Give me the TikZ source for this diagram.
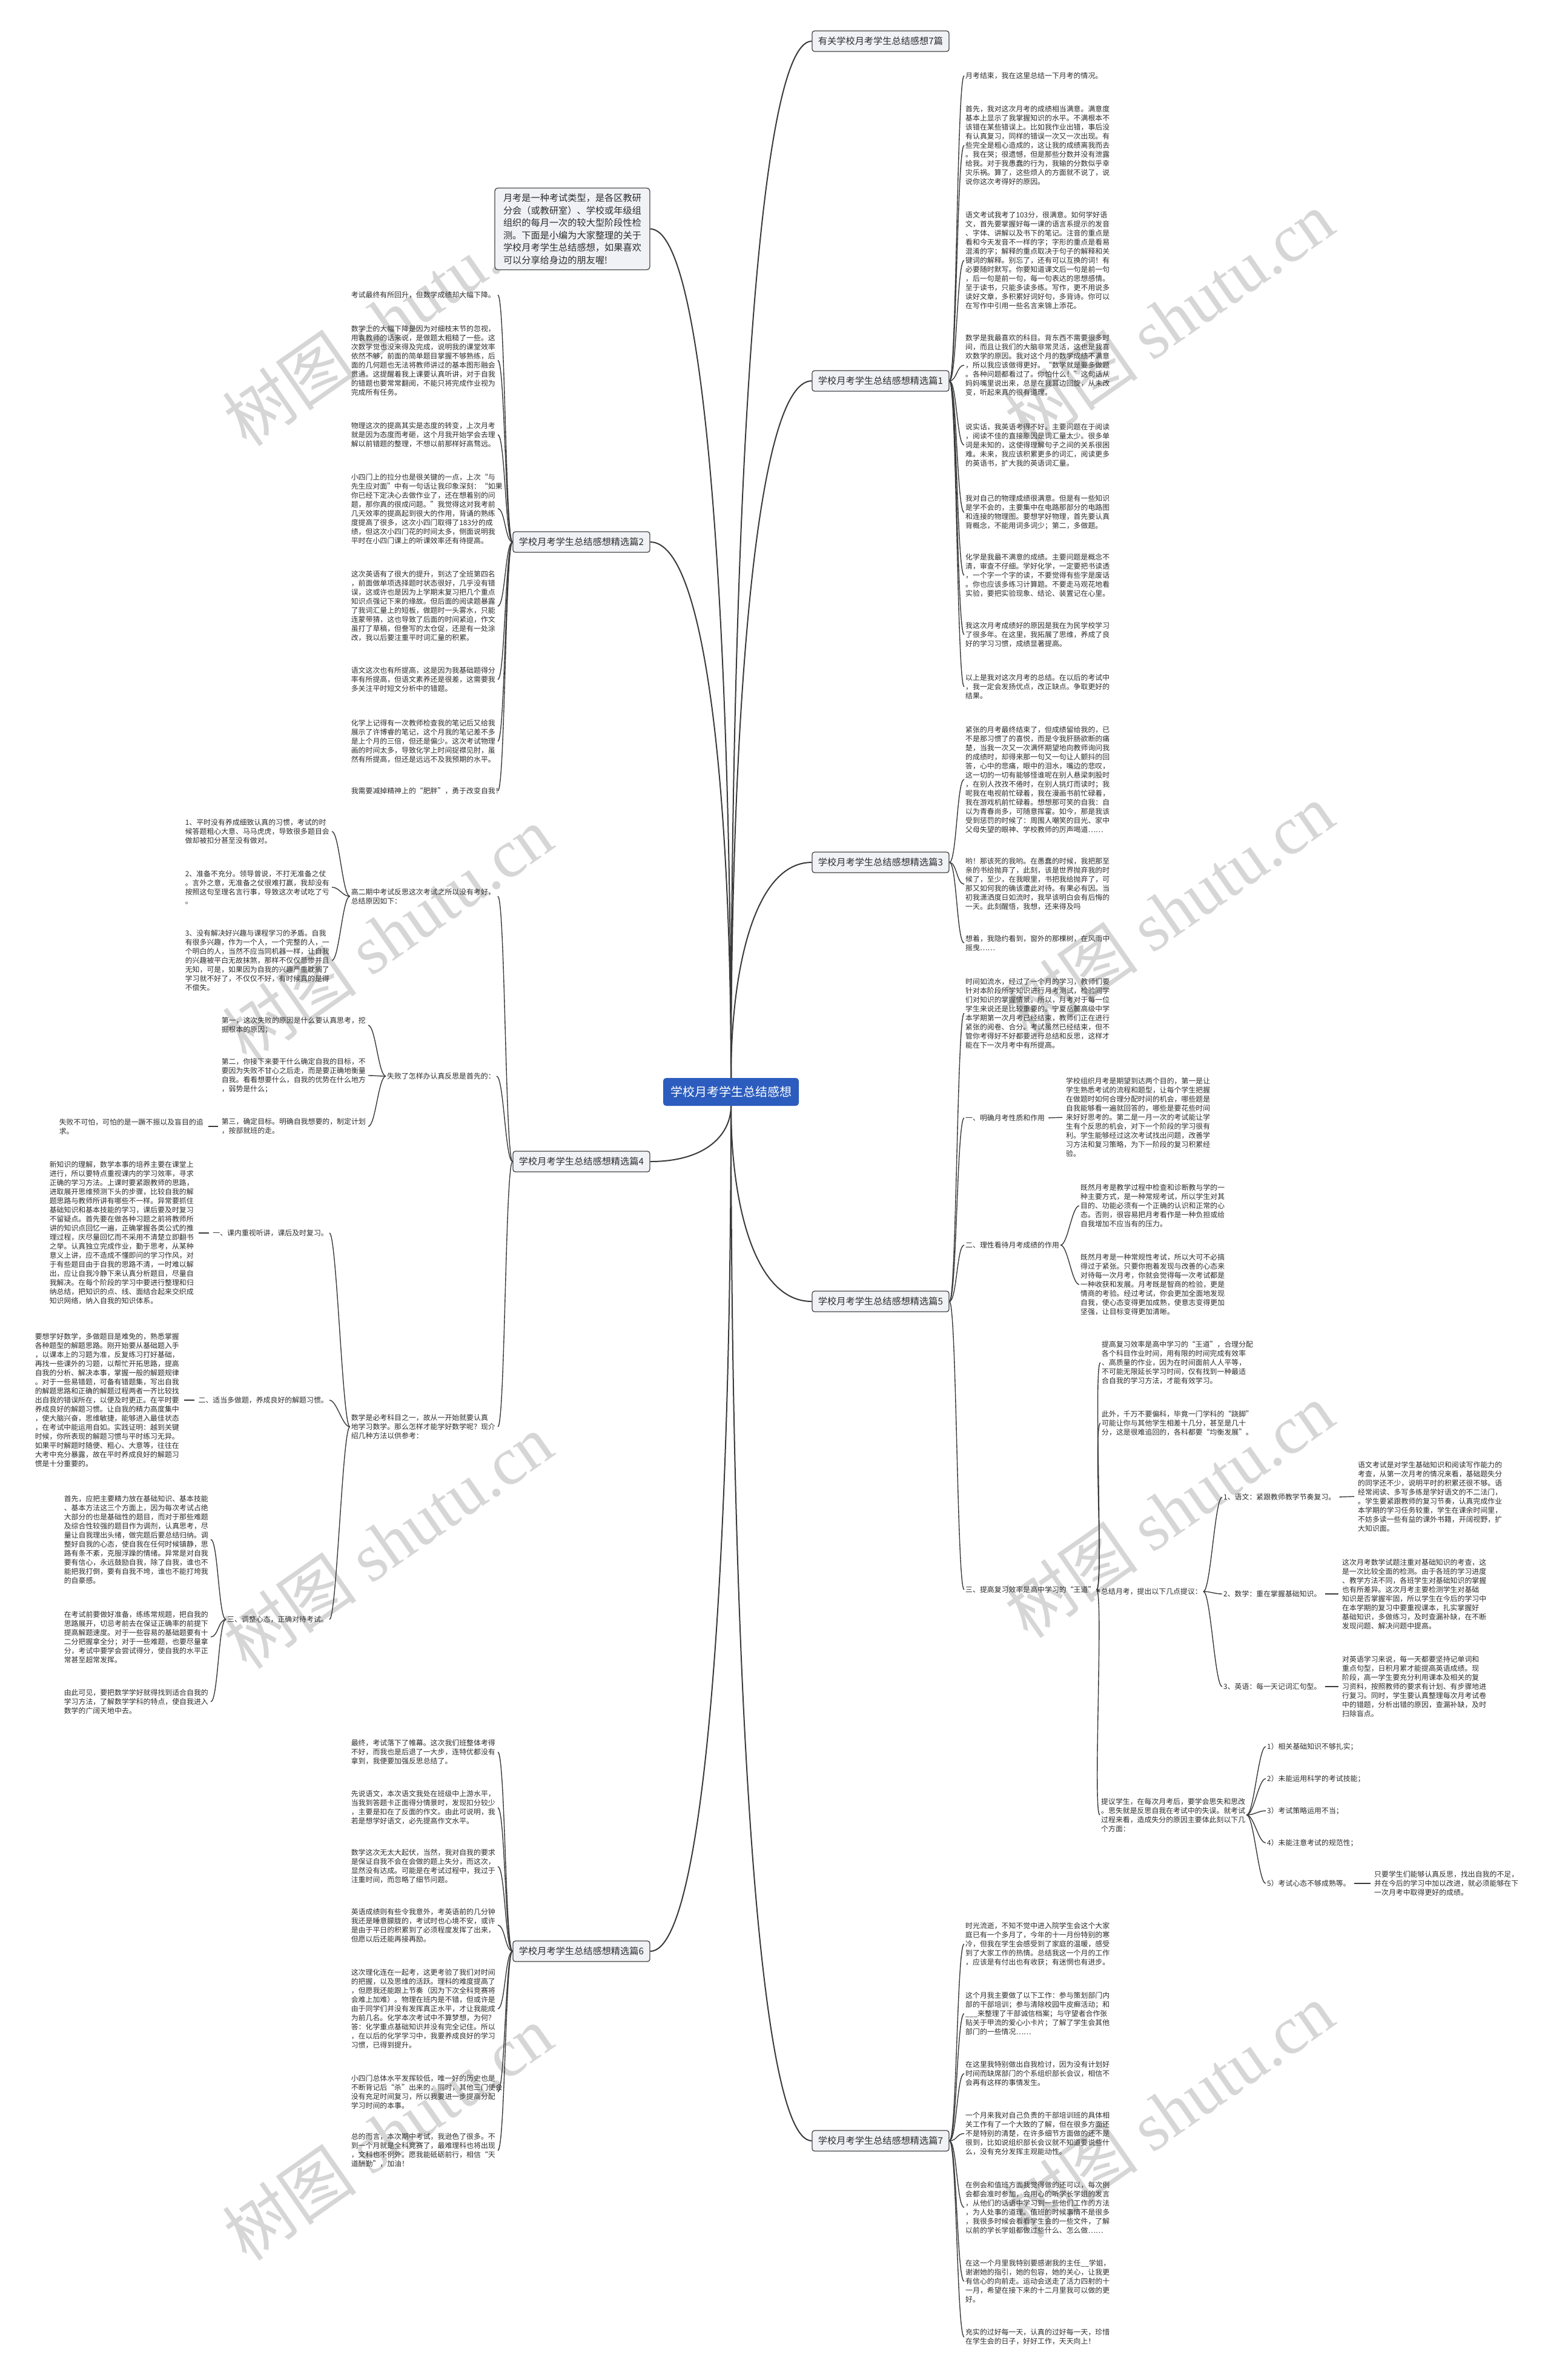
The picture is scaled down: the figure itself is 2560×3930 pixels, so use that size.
\documentclass[tikz,border=0pt]{standalone}
\usepackage{fontspec}
\setmainfont{Noto Sans CJK SC}
\newfontfamily\wmlatin{Liberation Serif}
\definecolor{linegray}{RGB}{58,58,58}
\definecolor{boxfill}{RGB}{240,242,246}
\definecolor{boxdraw}{RGB}{70,70,70}
\definecolor{rootblue}{RGB}{44,93,190}
\definecolor{txtcol}{RGB}{45,45,45}
\definecolor{wmcol}{RGB}{214,214,214}
\newcommand\fsT{\fontsize{11.9}{15}\selectfont}
\newcommand\fsB{\fontsize{15.2}{18}\selectfont}
\newcommand\fsI{\fontsize{15.2}{20.5}\selectfont}
\newcommand\fsR{\fontsize{20}{24}\selectfont}
\newcommand\fsW{\fontsize{112}{112}\selectfont}
\tikzset{
 txt/.style={inner sep=2pt, align=left, font=\fsT, text=txtcol},
 rt/.style={txt, anchor=west},
 lt/.style={txt, anchor=east, text width=240pt},
 branch/.style={draw=boxdraw, line width=1.3pt, fill=boxfill, rounded corners=4pt, minimum width=226pt, minimum height=34pt, font=\fsB, text=txtcol, inner sep=0pt},
 rootbox/.style={fill=rootblue, rounded corners=5pt, minimum width=224pt, minimum height=46pt, font=\fsR, text=white, inner sep=0pt},
 introbox/.style={draw=boxdraw, line width=1.3pt, fill=boxfill, rounded corners=5pt, minimum width=256pt, minimum height=135pt, font=\fsI, text=txtcol, align=left, inner sep=0pt},
 mainline/.style={draw=linegray, line width=2pt},
 subline/.style={draw=linegray, line width=1.4pt},
 dashline/.style={draw=linegray, line width=1.4pt, shorten <=4pt, shorten >=4pt},
 wm/.style={font=\fsW, text=wmcol, rotate=35, inner sep=0pt}
}
\begin{document}
\begin{tikzpicture}[x=1pt,y=-1pt]
\fill[white] (0,0) rectangle (2560,3930);
\useasboundingbox (0,0) rectangle (2560,3930);
% watermarks
\foreach \wx/\wy in {640/526,1930/526,640/1542,1930/1504,640/2545,1930/2494,640/3522,1930/3485}
  \node[wm] (wm-\wx-\wy) at (\wx,\wy) {树图 {\wmlatin shutu.cn}};

% ---------- main nodes ----------
\node[rootbox] (root) at (1207,1803) {学校月考学生总结感想};
\node[introbox] (intro) at (945,378) {月考是一种考试类型，是各区教研\\分会（或教研室）、学校或年级组\\组织的每月一次的较大型阶段性检\\测。下面是小编为大家整理的关于\\学校月考学生总结感想，如果喜欢\\可以分享给身边的朋友喔!};
\node[branch] (T0) at (1454,68) {有关学校月考学生总结感想7篇};
\node[branch] (P1) at (1454,629) {学校月考学生总结感想精选篇1};
\node[branch] (P3) at (1454,1424) {学校月考学生总结感想精选篇3};
\node[branch] (P5) at (1454,2149) {学校月考学生总结感想精选篇5};
\node[branch] (P7) at (1454,3535) {学校月考学生总结感想精选篇7};
\node[branch] (P2) at (960,895) {学校月考学生总结感想精选篇2};
\node[branch] (P4) at (960,1918) {学校月考学生总结感想精选篇4};
\node[branch] (P6) at (960,3222) {学校月考学生总结感想精选篇6};

% ---------- pian 1 ----------
\node[rt] (a1) at (1592,125) {月考结束，我在这里总结一下月考的情况。};
\node[rt] (a2) at (1592,240) {首先，我对这次月考的成绩相当满意。满意度\\基本上显示了我掌握知识的水平。不满根本不\\该错在某些错误上。比如我作业出错，事后没\\有认真复习，同样的错误一次又一次出现。有\\些完全是粗心造成的，这让我的成绩离我而去\\。我在哭；很遗憾，但是那些分数并没有泄露\\给我。对于我愚蠢的行为，我输的分数似乎幸\\灾乐祸。算了，这些烦人的方面就不说了，说\\说你这次考得好的原因。};
\node[rt] (a3) at (1592,430) {语文考试我考了103分，很满意。如何学好语\\文，首先要掌握好每一课的语言系提示的发音\\、字体、讲解以及书下的笔记。注音的重点是\\看和今天发音不一样的字；字形的重点是看易\\混淆的字；解释的重点取决于句子的解释和关\\键词的解释。别忘了，还有可以互换的词！有\\必要随时默写。你要知道课文后一句是前一句\\，后一句是前一句，每一句表达的思想感情。\\至于读书，只能多读多练。写作，更不用说多\\读好文章，多积累好词好句，多背诗。你可以\\在写作中引用一些名言来锦上添花。};
\node[rt] (a4) at (1592,603) {数学是我最喜欢的科目。背东西不需要很多时\\间，而且让我们的大脑非常灵活，这也是我喜\\欢数学的原因。我对这个月的数学成绩不满意\\，所以我应该做得更好。“数学就是要多做题\\。各种问题都看过了。你怕什么！”这句话从\\妈妈嘴里说出来，总是在我耳边回旋，从未改\\变，听起来真的很有道理。};
\node[rt] (a5) at (1592,735) {说实话，我英语考得不好。主要问题在于阅读\\，阅读不佳的直接原因是词汇量太少。很多单\\词是未知的，这使得理解句子之间的关系很困\\难。未来，我应该积累更多的词汇，阅读更多\\的英语书，扩大我的英语词汇量。};
\node[rt] (a6) at (1592,846) {我对自己的物理成绩很满意。但是有一些知识\\是学不会的，主要集中在电路那部分的电路图\\和连接的物理图。要想学好物理，首先要认真\\背概念，不能用词多词少；第二，多做题。};
\node[rt] (a7) at (1592,950) {化学是我最不满意的成绩。主要问题是概念不\\清，审查不仔细。学好化学，一定要把书读透\\，一个字一个字的读，不要觉得有些字是废话\\。你也应该多练习计算题。不要走马观花地看\\实验，要把实验现象、结论、装置记在心里。};
\node[rt] (a8) at (1592,1048) {我这次月考成绩好的原因是我在为民学校学习\\了很多年。在这里，我拓展了思维，养成了良\\好的学习习惯，成绩显著提高。};
\node[rt] (a9) at (1592,1134) {以上是我对这次月考的总结。在以后的考试中\\，我一定会发扬优点，改正缺点。争取更好的\\结果。};

% ---------- pian 3 ----------
\node[rt] (b1) at (1592,1287) {紧张的月考最终结束了，但成绩留给我的，已\\不是那习惯了的喜悦，而是令我肝肠欲断的痛\\楚，当我一次又一次满怀期望地向教师询问我\\的成绩时，却得来那一句又一句让人颤抖的回\\答，心中的悲痛，眼中的泪水，嘴边的悲叹，\\这一切的一切有能够怪谁呢在别人悬梁刺股时\\，在别人孜孜不倦时，在别人挑灯而读时；我\\呢我在电视前忙碌着，我在漫画书前忙碌着，\\我在游戏机前忙碌着。想想那可笑的自我：自\\以为青春尚多，可随意挥霍。如今，那是我该\\受到惩罚的时候了：周围人嘲笑的目光、家中\\父母失望的眼神、学校教师的厉声喝道……};
\node[rt] (b2) at (1592,1460) {哟！那该死的我哟。在愚蠢的时候，我把那至\\亲的书给抛弃了，此刻，该是世界抛弃我的时\\候了，至少，在我眼里，书把我给抛弃了，可\\那又如何我的确该遭此对待。有果必有因。当\\初我潇洒度日如流时，我早该明白会有后悔的\\一天。此刻醒悟，我想，还来得及吗};
\node[rt] (b3) at (1592,1557) {想着，我隐约看到，窗外的那棵树，在风雨中\\摇曳……};

% ---------- pian 5 ----------
\node[rt] (c1) at (1592,1673) {时间如流水，经过了一个月的学习，教师们要\\针对本阶段所学知识进行月考测试，检验同学\\们对知识的掌握情景。所以，月考对于每一位\\学生来说还是比较重要的。宁夏岳麓高级中学\\本学期第一次月考已经结束，教师们正在进行\\紧张的阅卷、合分。考试虽然已经结束，但不\\管你考得好不好都要进行总结和反思，这样才\\能在下一次月考中有所提高。};
\node[rt] (c2) at (1592,1846) {一、明确月考性质和作用};
\node[rt] (c2a) at (1758,1845) {学校组织月考是期望到达两个目的，第一是让\\学生熟悉考试的流程和题型，让每个学生把握\\在做题时如何合理分配时间的机会，哪些题是\\自我能够看一遍就回答的，哪些是要花些时间\\来好好思考的。第二是一月一次的考试能让学\\生有个反思的机会，对下一个阶段的学习很有\\利。学生能够经过这次考试找出问题，改善学\\习方法和复习策略，为下一阶段的复习积累经\\验。};
\node[rt] (c3) at (1592,2056) {二、理性看待月考成绩的作用};
\node[rt] (c3a) at (1782,1991) {既然月考是教学过程中检查和诊断教与学的一\\种主要方式，是一种常规考试，所以学生对其\\目的、功能必须有一个正确的认识和正常的心\\态。否则，很容易把月考看作是一种负担或给\\自我增加不应当有的压力。};
\node[rt] (c3b) at (1782,2121) {既然月考是一种常规性考试，所以大可不必搞\\得过于紧张。只要你抱着发现与改善的心态来\\对待每一次月考，你就会觉得每一次考试都是\\一种收获和发展。月考既是智商的检验，更是\\情商的考验。经过考试，你会更加全面地发现\\自我，使心态变得更加成熟，使意志变得更加\\坚强，让目标变得更加清晰。};
\node[rt] (c4) at (1592,2625) {三、提高复习效率是高中学习的“王道”};
\node[rt] (c4a) at (1817,2250) {提高复习效率是高中学习的“王道”，合理分配\\各个科目作业时间，用有限的时间完成有效率\\、高质量的作业，因为在时间面前人人平等，\\不可能无限延长学习时间，仅有找到一种最适\\合自我的学习方法，才能有效学习。};
\node[rt] (c4b) at (1817,2350) {此外，千万不要偏科，毕竟一门学科的“跷脚”\\可能让你与其他学生相差十几分，甚至是几十\\分，这是很难追回的，各科都要“均衡发展”。};
\node[rt] (c4c) at (1816,2628) {总结月考，提出以下几点提议：};
\node[rt] (s1) at (2018,2472) {1、语文：紧跟教师教学节奏复习。};
\node[rt] (s1t) at (2240,2471) {语文考试是对学生基础知识和阅读写作能力的\\考查，从第一次月考的情况来看，基础题失分\\的同学还不少，说明平时的积累还很不够。语\\经常阅读、多写多练是学好语文的不二法门，\\。学生要紧跟教师的复习节奏，认真完成作业\\本学期的学习任务较重，学生在课余时间里，\\不妨多读一些有益的课外书籍，开阔视野，扩\\大知识面。};
\node[rt] (s2) at (2018,2632) {2、数学：重在掌握基础知识。};
\node[rt] (s2t) at (2214,2632) {这次月考数学试题注重对基础知识的考查，这\\是一次比较全面的检测。由于各班的学习进度\\、教学方法不同，各班学生对基础知识的掌握\\也有所差异。这次月考主要检测学生对基础\\知识是否掌握牢固，所以学生在今后的学习中\\在本学期的复习中要重视课本，扎实掌握好\\基础知识，多做练习，及时查漏补缺，在不断\\发现问题、解决问题中提高。};
\node[rt] (s3) at (2018,2785) {3、英语：每一天记词汇句型。};
\node[rt] (s3t) at (2214,2785) {对英语学习来说，每一天都要坚持记单词和\\重点句型，日积月累才能提高英语成绩。现\\阶段，高一学生要充分利用课本及相关的复\\习资料，按照教师的要求有计划、有步骤地进\\行复习。同时，学生要认真整理每次月考试卷\\中的错题，分析出错的原因，查漏补缺，及时\\扫除盲点。};
\node[rt] (c4d) at (1816,2997) {提议学生，在每次月考后，要学会思失和思改\\。思失就是反思自我在考试中的失误。就考试\\过程来看，造成失分的原因主要体此刻以下几\\个方面：};
\node[rt] (r1) at (2090,2884) {1）相关基础知识不够扎实；};
\node[rt] (r2) at (2090,2937) {2）未能运用科学的考试技能；};
\node[rt] (r3) at (2090,2990) {3）考试策略运用不当；};
\node[rt] (r4) at (2090,3043) {4）未能注意考试的规范性；};
\node[rt] (r5) at (2090,3110) {5）考试心态不够成熟等。};
\node[rt] (r5t) at (2267,3110) {只要学生们能够认真反思，找出自我的不足，\\并在今后的学习中加以改进，就必须能够在下\\一次月考中取得更好的成绩。};

% ---------- pian 7 ----------
\node[rt] (d1) at (1592,3210) {时光流逝，不知不觉中进入院学生会这个大家\\庭已有一个多月了，今年的十一月份特别的寒\\冷，但我在学生会感受到了家庭的温暖，感受\\到了大家工作的热情。总结我这一个月的工作\\，应该是有付出也有收获；有迷惘也有进步。};
\node[rt] (d2) at (1592,3325) {这个月我主要做了以下工作：参与策划部门内\\部的干部培训；参与清除校园牛皮癣活动；和\\\_\_\_来整理了干部诚信档案；与守望者合作张\\贴关于甲流的爱心小卡片；了解了学生会其他\\部门的一些情况……};
\node[rt] (d3) at (1592,3424) {在这里我特别做出自我检讨，因为没有计划好\\时间而缺席部门的个系组织部长会议，相信不\\会再有这样的事情发生。};
\node[rt] (d4) at (1592,3523) {一个月来我对自己负责的干部培训班的具体相\\关工作有了一个大致的了解，但在很多方面还\\不是特别的清楚，在许多细节方面做的还不是\\很到，比如说组织部长会议就不知道要说些什\\么，没有充分发挥主观能动性。};
\node[rt] (d5) at (1592,3645) {在例会和值班方面我觉得做的还可以，每次例\\会都会准时参加，会用心的听学长学姐的发言\\，从他们的话语中学习到一些他们工作的方法\\，为人处事的道理。值班的时候事情不是很多\\，我很多时候会看看学生会的一些文件，了解\\以前的学长学姐都做过些什么、怎么做……};
\node[rt] (d6) at (1592,3767) {在这一个月里我特别要感谢我的主任\_\_学姐，\\谢谢她的指引，她的包容，她的关心，让我更\\有信心的向前走。运动会送走了活力四射的十\\一月，希望在接下来的十二月里我可以做的更\\好。};
\node[rt] (d7) at (1592,3859) {充实的过好每一天，认真的过好每一天，珍惜\\在学生会的日子，好好工作，天天向上！};

% ---------- pian 2 ----------
\node[lt] (e1) at (822,487) {考试最终有所回升，但数学成绩却大幅下降。};
\node[lt] (e2) at (822,595) {数学上的大幅下降是因为对细枝末节的忽视，\\用袁教师的话来说，是做题太粗糙了一些。这\\次数学觉也没来得及完成，说明我的课堂效率\\依然不够，前面的简单题目掌握不够熟练，后\\面的几何题也无法将教师讲过的基本图形融会\\贯通。这提醒着我上课要认真听讲，对于自我\\的错题也要常常翻阅，不能只将完成作业视为\\完成所有任务。};
\node[lt] (e3) at (822,718) {物理这次的提高其实是态度的转变，上次月考\\就是因为态度而考砸，这个月我开始学会去理\\解以前错题的整理，不想以前那样好高骛远。};
\node[lt] (e4) at (822,840) {小四门上的拉分也是很关键的一点，上次“与\\先生应对面”中有一句话让我印象深刻：“如果\\你已经下定决心去做作业了，还在想着别的问\\题，那你真的很成问题。”我觉得这对我考前\\几天效率的提高起到很大的作用，背诵的熟练\\度提高了很多，这次小四门取得了183分的成\\绩，但这次小四门花的时间太多，侧面说明我\\平时在小四门课上的听课效率还有待提高。};
\node[lt] (e5) at (822,1001) {这次英语有了很大的提升，到达了全班第四名\\，前面做单项选择题时状态很好，几乎没有错\\误，这或许也是因为上学期末复习把几个重点\\知识点强记下来的缘故。但后面的阅读题暴露\\了我词汇量上的短板，做题时一头雾水，只能\\连蒙带猜，这也导致了后面的时间紧迫，作文\\虽打了草稿，但誊写的太仓促，还是有一处涂\\改，我以后要注重平时词汇量的积累。};
\node[lt] (e6) at (822,1122) {语文这次也有所提高，这是因为我基础题得分\\率有所提高，但语文素养还是很差，这需要我\\多关注平时短文分析中的错题。};
\node[lt] (e7) at (822,1224) {化学上记得有一次教师检查我的笔记后又给我\\展示了许博睿的笔记，这个月我的笔记差不多\\是上个月的三倍，但还是偏少。这次考试物理\\画的时间太多，导致化学上时间捉襟见肘，虽\\然有所提高，但还是远远不及我预期的水平。};
\node[lt] (e8) at (822,1306) {我需要减掉精神上的“肥胖”，勇于改变自我！};

% ---------- pian 4 ----------
\node[lt] (f1) at (822,1480) {高二期中考试反思这次考试之所以没有考好，\\总结原因如下：};
\node[lt] (f1a) at (548,1373) {1、平时没有养成细致认真的习惯，考试的时\\候答题粗心大意、马马虎虎，导致很多题目会\\做却被扣分甚至没有做对。};
\node[lt] (f1b) at (548,1465) {2、准备不充分。领导曾说，不打无准备之仗\\。言外之意，无准备之仗很难打赢，我却没有\\按照这句至理名言行事，导致这次考试吃了亏\\。};
\node[lt] (f1c) at (548,1586) {3、没有解决好兴趣与课程学习的矛盾。自我\\有很多兴趣，作为一个人，一个完整的人，一\\个明白的人，当然不应当同机器一样，让自我\\的兴趣被平白无故抹煞，那样不仅仅悲惨并且\\无知，可是，如果因为自我的兴趣严重耽搁了\\学习就不好了，不仅仅不好，有时候真的是得\\不偿失。};
\node[rt] (f2) at (637,1777) {失败了怎样办认真反思是首先的：};
\node[lt] (f2a) at (608,1693) {第一，这次失败的原因是什么要认真思考，挖\\掘根本的原因；};
\node[lt] (f2b) at (608,1776) {第二，你接下来要干什么确定自我的目标，不\\要因为失败不甘心之后走，而是要正确地衡量\\自我。看看想要什么，自我的优势在什么地方\\，弱势是什么；};
\node[lt] (f2c) at (608,1860) {第三，确定目标。明确自我想要的，制定计划\\，按部就班的走。};
\node[lt] (f2d) at (340,1860) {失败不可怕，可怕的是一蹶不振以及盲目的追\\求。};
\node[lt] (f3) at (822,2356) {数学是必考科目之一，故从一开始就要认真\\地学习数学。那么怎样才能学好数学呢？现介\\绍几种方法以供参考：};
\node[txt, anchor=east] (g1) at (544,2036) {一、课内重视听讲，课后及时复习。};
\node[lt] (g1t) at (324,2036) {新知识的理解，数学本事的培养主要在课堂上\\进行，所以要特点重视课内的学习效率，寻求\\正确的学习方法。上课时要紧跟教师的思路，\\进取展开思维预测下头的步骤，比较自我的解\\题思路与教师所讲有哪些不一样。异常要抓住\\基础知识和基本技能的学习，课后要及时复习\\不留疑点。首先要在做各种习题之前将教师所\\讲的知识点回忆一遍，正确掌握各类公式的推\\理过程，庆尽量回忆而不采用不清楚立即翻书\\之举。认真独立完成作业，勤于思考，从某种\\意义上讲，应不造成不懂即问的学习作风，对\\于有些题目由于自我的思路不清，一时难以解\\出，应让自我冷静下来认真分析题目，尽量自\\我解决。在每个阶段的学习中要进行整理和归\\纳总结，把知识的点、线、面结合起来交织成\\知识网络，纳入自我的知识体系。};
\node[txt, anchor=east] (g2) at (544,2312) {二、适当多做题，养成良好的解题习惯。};
\node[lt] (g2t) at (300,2312) {要想学好数学，多做题目是难免的，熟悉掌握\\各种题型的解题思路。刚开始要从基础题入手\\，以课本上的习题为准，反复练习打好基础，\\再找一些课外的习题，以帮忙开拓思路，提高\\自我的分析、解决本事，掌握一般的解题规律\\。对于一些易错题，可备有错题集，写出自我\\的解题思路和正确的解题过程两者一齐比较找\\出自我的错误所在，以便及时更正。在平时要\\养成良好的解题习惯。让自我的精力高度集中\\，使大脑兴奋，思维敏捷，能够进入最佳状态\\，在考试中能运用自如。实践证明：越到关键\\时候，你所表现的解题习惯与平时练习无异。\\如果平时解题时随便、粗心、大意等，往往在\\大考中充分暴露，故在平时养成良好的解题习\\惯是十分重要的。};
\node[txt, anchor=east] (g3) at (544,2674) {三、调整心态，正确对待考试。};
\node[lt] (g3a) at (348,2542) {首先，应把主要精力放在基础知识、基本技能\\、基本方法这三个方面上，因为每次考试占绝\\大部分的也是基础性的题目，而对于那些难题\\及综合性较强的题目作为调剂，认真思考，尽\\量让自我理出头绪，做完题后要总结归纳。调\\整好自我的心态，使自我在任何时候镇静，思\\路有条不紊，克服浮躁的情绪。异常是对自我\\要有信心，永远鼓励自我，除了自我，谁也不\\能把我打倒，要有自我不垮，谁也不能打垮我\\的自豪感。};
\node[lt] (g3b) at (348,2703) {在考试前要做好准备，练练常规题，把自我的\\思路展开，切忌考前去在保证正确率的前提下\\提高解题速度。对于一些容易的基础题要有十\\二分把握拿全分；对于一些难题，也要尽量拿\\分，考试中要学会尝试得分，使自我的水平正\\常甚至超常发挥。};
\node[lt] (g3c) at (348,2810) {由此可见，要把数学学好就得找到适合自我的\\学习方法，了解数学学科的特点，使自我进入\\数学的广阔天地中去。};

% ---------- pian 6 ----------
\node[lt] (h1) at (822,2893) {最终，考试落下了帷幕。这次我们班整体考得\\不好，而我也是后退了一大步，连特优都没有\\拿到，我便要加强反思总结了。};
\node[lt] (h2) at (822,2985) {先说语文，本次语文我处在班级中上游水平，\\当我到答题卡正面得分情景时，发现扣分较少\\，主要是扣在了反面的作文。由此可说明，我\\若是想学好语文，必先提高作文水平。};
\node[lt] (h3) at (822,3082) {数学这次无太大起伏，当然，我对自我的要求\\是保证自我不会在会做的题上失分，而这次，\\显然没有达成。可能是在考试过程中，我过于\\注重时间，而忽略了细节问题。};
\node[lt] (h4) at (822,3179) {英语成绩则有些令我意外，考英语前的几分钟\\我还是睡意朦胧的，考试时也心境不安，或许\\是由于平日的积累到了必须程度发挥了出来，\\但愿以后还能再接再励。};
\node[lt] (h5) at (822,3317) {这次理化连在一起考，这更考验了我们对时间\\的把握，以及思维的活跃。理科的难度提高了\\，但愿我还能跟上节奏（因为下次全科竞赛将\\会难上加难）。物理在班内是不错，但或许是\\由于同学们并没有发挥真正水平，才让我能成\\为前几名。化学本次考试中不算梦想，为何？\\答：化学重点基础知识并没有完全记住。所以\\，在以后的化学学习中，我要养成良好的学习\\习惯，已得到提升。};
\node[lt] (h6) at (822,3454) {小四门总体水平发挥较低，唯一好的历史也是\\不断背记后“杀”出来的，同时，其他三门便会\\没有充足时间复习，所以我要进一步提高分配\\学习时间的本事。};
\node[lt] (h7) at (822,3551) {总的而言，本次期中考试，我逊色了很多。不\\到一个月就是全科竞赛了，最难理科也将出现\\，文科也不例外。愿我能砥砺前行，相信“天\\道酬勤”，加油！};

% ---------- main connectors ----------
\draw[mainline] (root.north) .. controls +(0,-855) and +(-95,0) .. (T0.west);
\draw[mainline] (root.north) .. controls +(0,-575) and +(-95,0) .. (P1.west);
\draw[mainline] (root.north) .. controls +(0,-178) and +(-95,0) .. (P3.west);
\draw[mainline] (root.south) .. controls +(0,161) and +(-95,0) .. (P5.west);
\draw[mainline] (root.south) .. controls +(0,854) and +(-95,0) .. (P7.west);
\draw[mainline] (root.north) .. controls +(0,-700) and +(95,0) .. (intro.east);
\draw[mainline] (root.north) .. controls +(0,-442) and +(95,0) .. (P2.east);
\draw[mainline] (root.south) .. controls +(0,45) and +(95,0) .. (P4.east);
\draw[mainline] (root.south) .. controls +(0,698) and +(95,0) .. (P6.east);

% ---------- right sub connectors ----------
\foreach \c in {a1,a2,a3,a4,a5,a6,a7,a8,a9}
  \draw[subline] (P1.east) .. controls +(12,0) and +(-12,0) .. (\c.west);
\foreach \c in {b1,b2,b3}
  \draw[subline] (P3.east) .. controls +(12,0) and +(-12,0) .. (\c.west);
\foreach \c in {c1,c2,c3,c4}
  \draw[subline] (P5.east) .. controls +(12,0) and +(-12,0) .. (\c.west);
\foreach \c in {d1,d2,d3,d4,d5,d6,d7}
  \draw[subline] (P7.east) .. controls +(12,0) and +(-12,0) .. (\c.west);
\draw[dashline] (c2.east) -- (c2a.west);
\foreach \c in {c3a,c3b}
  \draw[subline] (c3.east) .. controls +(12,0) and +(-12,0) .. (\c.west);
\foreach \c in {c4a,c4b,c4c,c4d}
  \draw[subline] (c4.east) .. controls +(12,0) and +(-12,0) .. (\c.west);
\foreach \c in {s1,s2,s3}
  \draw[subline] (c4c.east) .. controls +(12,0) and +(-12,0) .. (\c.west);
\draw[dashline] (s1.east) -- (s1t.west);
\draw[dashline] (s2.east) -- (s2t.west);
\draw[dashline] (s3.east) -- (s3t.west);
\foreach \c in {r1,r2,r3,r4,r5}
  \draw[subline] (c4d.east) .. controls +(12,0) and +(-12,0) .. (\c.west);
\draw[dashline] (r5.east) -- (r5t.west);

% ---------- left sub connectors ----------
\foreach \c in {e1,e2,e3,e4,e5,e6,e7,e8}
  \draw[subline] (P2.west) .. controls +(-12,0) and +(12,0) .. (\c.east);
\foreach \c in {f1,f3}
  \draw[subline] (P4.west) .. controls +(-12,0) and +(12,0) .. (\c.east);
\draw[subline] (P4.west) .. controls +(-12,0) and +(12,0) .. (f2.east);
\foreach \c in {f1a,f1b,f1c}
  \draw[subline] (f1.west) .. controls +(-12,0) and +(12,0) .. (\c.east);
\foreach \c in {f2a,f2b,f2c}
  \draw[subline] (f2.west) .. controls +(-12,0) and +(12,0) .. (\c.east);
\draw[dashline] (f2c.west) -- (f2d.east);
\foreach \c in {g1,g2,g3}
  \draw[subline] (f3.west) .. controls +(-12,0) and +(12,0) .. (\c.east);
\draw[dashline] (g1.west) -- (g1t.east);
\draw[dashline] (g2.west) -- (g2t.east);
\foreach \c in {g3a,g3b,g3c}
  \draw[subline] (g3.west) .. controls +(-12,0) and +(12,0) .. (\c.east);
\foreach \c in {h1,h2,h3,h4,h5,h6,h7}
  \draw[subline] (P6.west) .. controls +(-12,0) and +(12,0) .. (\c.east);
\end{tikzpicture}
\end{document}
